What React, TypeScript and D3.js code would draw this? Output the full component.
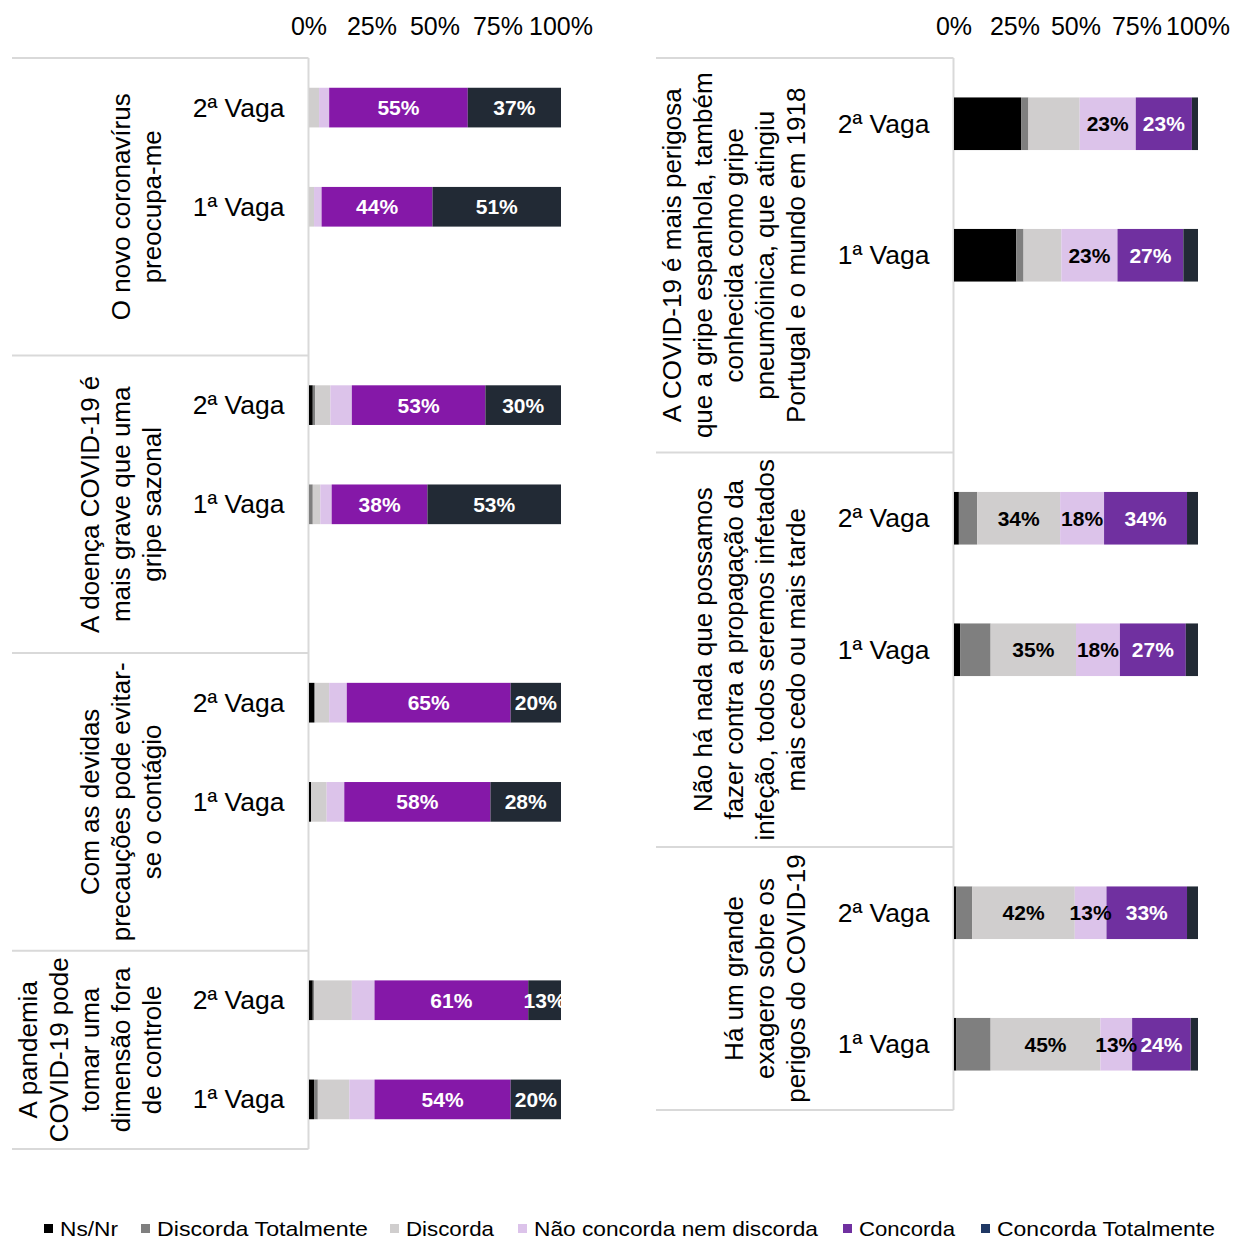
import React from "react";
import * as d3 from "d3";

// Response categories (stack order, left to right)
const SERIES = [
  "Ns/Nr",
  "Discorda Totalmente",
  "Discorda",
  "Não concorda nem discorda",
  "Concorda",
  "Concorda Totalmente",
];
const LEGEND_COLORS = ["#000000", "#7f7f7f", "#d0cece", "#dcc3ea", "#7030a0", "#1f3864"];
const LEFT_COLORS = ["#000000", "#7f7f7f", "#d0cece", "#dcc3ea", "#8518a8", "#222a35"];
const RIGHT_COLORS = ["#000000", "#7f7f7f", "#d0cece", "#dcc3ea", "#7030a0", "#222a35"];

const WAVES = ["2ª Vaga", "1ª Vaga"];
const TICKS = [0, 25, 50, 75, 100];

// Statements, split into the lines they are printed on
const LEFT_GROUPS = [
  ["O novo coronavírus", "preocupa-me"],
  ["A doença COVID-19 é", "mais grave que uma", "gripe sazonal"],
  ["Com as devidas", "precauções pode evitar-", "se o contágio"],
  ["A pandemia", "COVID-19 pode", "tomar uma", "dimensão fora", "de controle"],
];
const RIGHT_GROUPS = [
  [
    "A COVID-19 é mais perigosa",
    "que a gripe espanhola, também",
    "conhecida como gripe",
    "pneumóinica, que atingiu",
    "Portugal e o mundo em 1918",
  ],
  [
    "Não há nada que possamos",
    "fazer contra a propagação da",
    "infeção, todos seremos infetados",
    "mais cedo ou mais tarde",
  ],
  ["Há um grande", "exagero sobre os", "perigos do COVID-19"],
];

// Percentages per statement: [2ª Vaga, 1ª Vaga], each in SERIES order
const LEFT_VALUES = [
  [[0, 0, 4, 4, 55, 37], [0, 0, 2, 3, 44, 51]],
  [[1.5, 1, 6, 8.5, 53, 30], [0, 1.5, 3, 4.5, 38, 53]],
  [[2, 0.5, 5.5, 7, 65, 20], [0.8, 0, 6.2, 7, 58, 28]],
  [[1.5, 0.5, 15, 9, 61, 13], [2, 1.5, 12.5, 10, 54, 20]],
];
const RIGHT_VALUES = [
  [[27.5, 3, 21, 23, 23, 2.5], [25.5, 3, 15.5, 23, 27, 6]],
  [[2, 7.5, 34, 18, 34, 4.5], [2.5, 12.5, 35, 18, 27, 5]],
  [[1, 6.5, 42, 13, 33, 4.5], [1, 14, 45, 13, 24, 3]],
];

// Which series carry a value label, per statement
const LEFT_LABELLED = [[4, 5], [4, 5], [4, 5], [4, 5]];
const RIGHT_LABELLED = [[3, 4], [2, 3, 4], [2, 3, 4]];

const FONT = "'Liberation Sans', Arial, Helvetica, sans-serif";
const GRID = "#d9d9d9";

type PanelProps = {
  id: string;
  groups: string[][];
  values: number[][][];
  labelled: number[][];
  colors: string[];
  boxLeft: number;
  x0: number;
  x1: number;
  top: number;
  bottom: number;
};

function Panel(p: PanelProps) {
  // slots: each statement gets two bars plus a spacer, except the last one
  const slots: string[] = [];
  p.groups.forEach((_, gi) => {
    WAVES.forEach((_, wi) => slots.push(`${gi}-${wi}`));
    if (gi < p.groups.length - 1) slots.push(`${gi}-gap`);
  });
  const y = d3
    .scaleBand<string>()
    .domain(slots)
    .range([p.top, p.bottom])
    .paddingInner(0.6)
    .paddingOuter(0.3);
  const x = d3.scaleLinear().domain([0, 100]).range([p.x0, p.x1]);
  const step = y.step();

  const stack = d3
    .stack<number[], number>()
    .keys(d3.range(SERIES.length))
    .value((d, k) => d[k]);

  // group boundaries in slot units
  const bounds: number[] = [0];
  p.groups.forEach((_, gi) => {
    bounds.push(bounds[bounds.length - 1] + (gi < p.groups.length - 1 ? 3 : 2));
  });
  const boundY = bounds.map((b) => p.top + b * step);
  const axisX = p.x0 - 0.5;
  const lineGap = 31;
  const lastLineX = p.boxLeft + 140;

  return (
    <g>
      <defs>
        <clipPath id={`clip-${p.id}`}>
          <rect x={p.x0} y={p.top} width={p.x1 - p.x0} height={p.bottom - p.top} />
        </clipPath>
      </defs>
      {/* tick labels */}
      {TICKS.map((t) => (
        <text
          key={t}
          x={x(t)}
          y={26}
          textAnchor="middle"
          dominantBaseline="central"
          fontSize={25}
          fill="#000"
        >
          {t}%
        </text>
      ))}
      {/* category frame */}
      {boundY.map((by, i) => (
        <line key={i} x1={p.boxLeft} x2={axisX} y1={by} y2={by} stroke={GRID} strokeWidth={2} />
      ))}
      <line x1={axisX} x2={axisX} y1={p.top} y2={p.bottom} stroke={GRID} strokeWidth={2} />
      {/* statements */}
      {p.groups.map((lines, gi) => {
        const cy = (boundY[gi] + boundY[gi + 1]) / 2;
        return lines.map((ln, li) => {
          const cx = lastLineX - (lines.length - 1 - li) * lineGap;
          return (
            <text
              key={`${gi}-${li}`}
              transform={`translate(${cx},${cy}) rotate(-90)`}
              textAnchor="middle"
              dominantBaseline="central"
              fontSize={26}
              fill="#000"
            >
              {ln}
            </text>
          );
        });
      })}
      {/* bars */}
      {p.values.map((rows, gi) =>
        rows.map((row, wi) => {
          const key = `${gi}-${wi}`;
          const by = y(key)!;
          const bh = y.bandwidth();
          const layers = stack([row]);
          return (
            <g key={key}>
              <text
                x={axisX - 24}
                y={by + bh / 2}
                textAnchor="end"
                dominantBaseline="central"
                fontSize={26.5}
                fill="#000"
              >
                {WAVES[wi]}
              </text>
              {layers.map((layer, si) => {
                const [a, b] = layer[0];
                if (b - a <= 0) return null;
                return (
                  <rect
                    key={si}
                    x={x(a)}
                    y={by}
                    width={x(b) - x(a)}
                    height={bh}
                    fill={p.colors[si]}
                  />
                );
              })}
              <g clipPath={`url(#clip-${p.id})`}>
                {layers.map((layer, si) => {
                  if (!p.labelled[gi].includes(si)) return null;
                  const [a, b] = layer[0];
                  return (
                    <text
                      key={si}
                      x={(x(a) + x(b)) / 2}
                      y={by + bh / 2}
                      textAnchor="middle"
                      dominantBaseline="central"
                      fontSize={21}
                      fontWeight="bold"
                      fill={si >= 4 ? "#ffffff" : "#000000"}
                    >
                      {Math.round(row[si])}%
                    </text>
                  );
                })}
              </g>
            </g>
          );
        })
      )}
    </g>
  );
}

const LEGEND_X = [44, 141, 390, 518, 843, 981];
const LEGEND_W = [58, 211, 88, 284, 96, 218];

export default function App() {
  return (
    <svg
      width={1234}
      height={1240}
      style={{ position: "absolute", left: 0, top: 0, background: "#fff" }}
      fontFamily={FONT}
    >
      <rect width={1234} height={1240} fill="#fff" />
      <Panel
        id="left"
        groups={LEFT_GROUPS}
        values={LEFT_VALUES}
        labelled={LEFT_LABELLED}
        colors={LEFT_COLORS}
        boxLeft={12}
        x0={309}
        x1={561}
        top={58}
        bottom={1149}
      />
      <Panel
        id="right"
        groups={RIGHT_GROUPS}
        values={RIGHT_VALUES}
        labelled={RIGHT_LABELLED}
        colors={RIGHT_COLORS}
        boxLeft={656}
        x0={954}
        x1={1198}
        top={58}
        bottom={1110}
      />
      {/* legend */}
      {SERIES.map((s, i) => (
        <g key={s}>
          <rect x={LEGEND_X[i]} y={1224} width={9} height={9} fill={LEGEND_COLORS[i]} />
          <text
            x={LEGEND_X[i] + 16}
            y={1236}
            fontSize={21}
            fill="#000"
            textLength={LEGEND_W[i]}
            lengthAdjust="spacingAndGlyphs"
          >
            {s}
          </text>
        </g>
      ))}
    </svg>
  );
}
